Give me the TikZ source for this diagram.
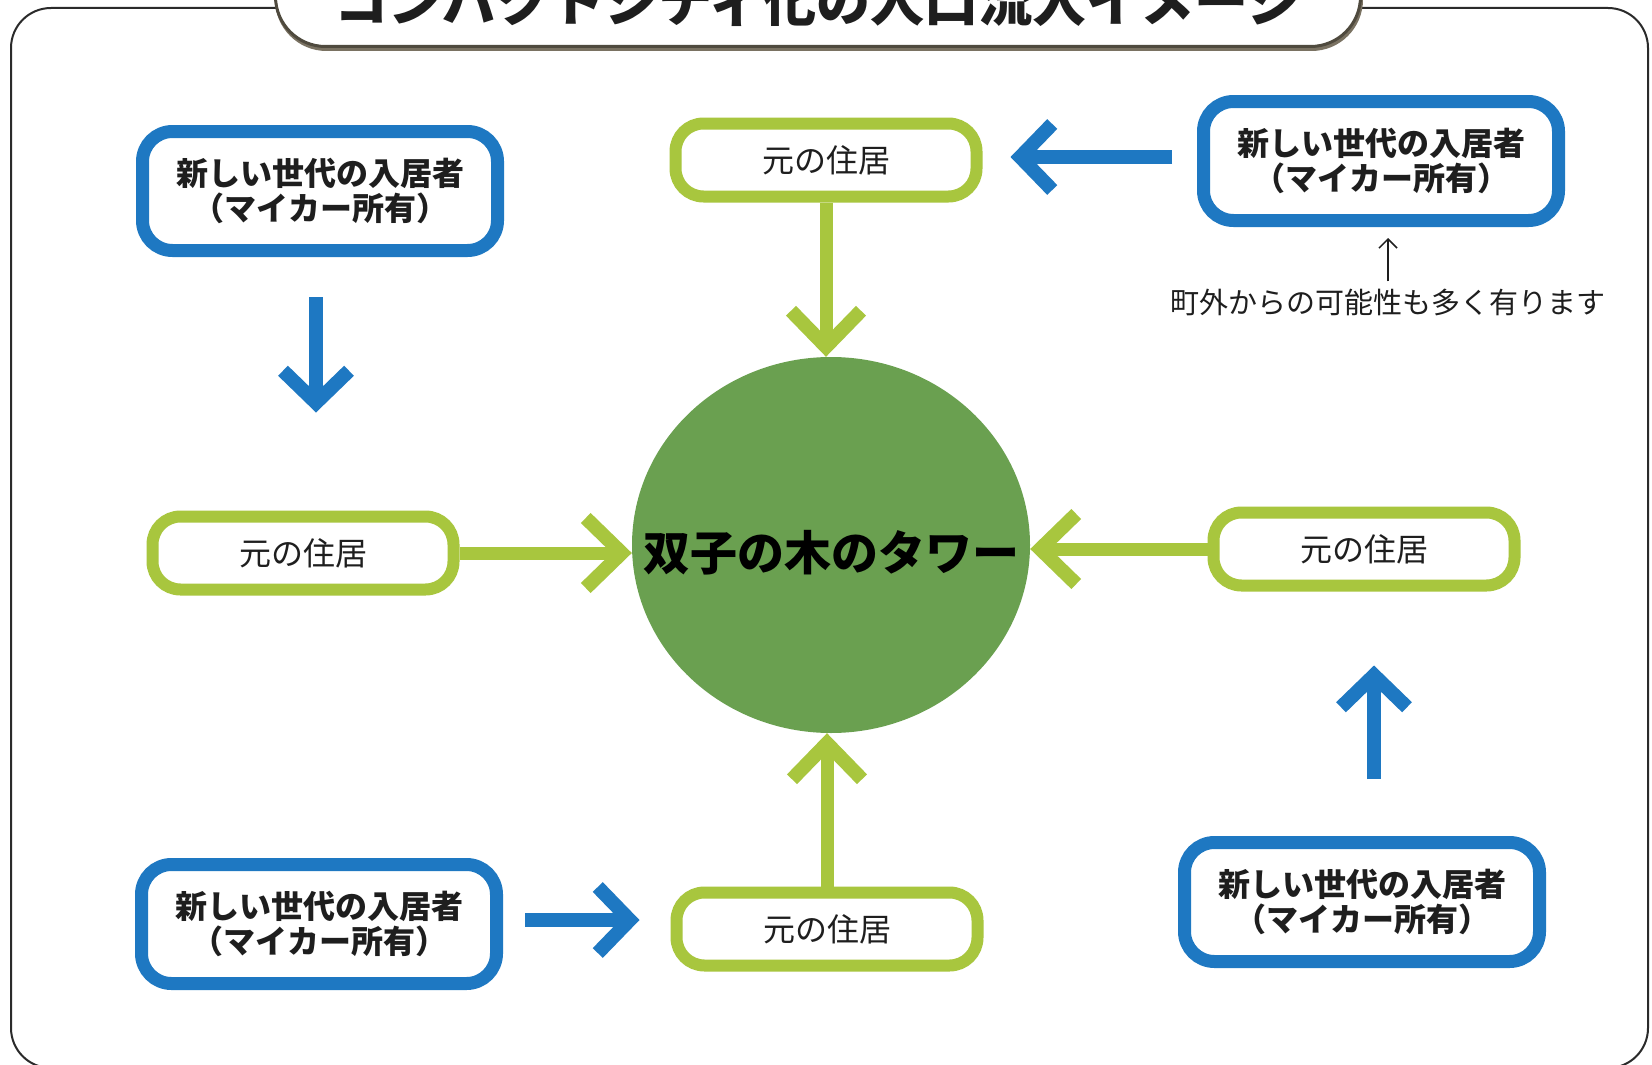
\documentclass[tikz,border=0pt]{standalone}
\usepackage{fontspec}
\newfontfamily\jp{Noto Sans CJK JP}
\usetikzlibrary{arrows.meta,shapes.geometric}
\definecolor{blueC}{HTML}{1E78C2}
\definecolor{greenC}{HTML}{A8C63E}
\definecolor{circC}{HTML}{6AA050}
\definecolor{frameC}{HTML}{2A2A2A}
\definecolor{titleC}{HTML}{4F4A3E}
\definecolor{shadowC}{HTML}{7A7262}
\definecolor{txtC}{HTML}{1E1E1E}
\tikzset{
  newbox/.style={draw=blueC, line width=13pt, rounded corners=30pt, fill=white,
    minimum width=355pt, minimum height=119pt, align=center, inner sep=0pt,
    font=\jp\bfseries\fontsize{32}{35}\selectfont, text=txtC},
  oldbox/.style={draw=greenC, line width=12pt, rounded corners=28pt, fill=white,
    minimum width=301pt, minimum height=73pt, inner sep=0pt,
    font=\jp\fontsize{32}{36}\selectfont, text=txtC},
  bluearrow/.style={draw=blueC, line width=14pt,
    -{Straight Barb[length=32pt,width=66pt,line width=14pt]}},
  greenarrow/.style={draw=greenC, line width=13pt,
    -{Straight Barb[length=36pt,width=70pt,line width=14pt]}},
  titlebox/.style={draw=titleC, line width=3pt, rounded corners=50pt, fill=white,
    minimum width=1085pt, minimum height=113pt},
  titleshadow/.style={draw=shadowC, line width=3pt, rounded corners=50pt, fill=shadowC,
    minimum width=1085pt, minimum height=113pt},
  notearrow/.style={draw=txtC, line width=1.5pt, -{Straight Barb[length=9pt,width=18pt]}}
}
\begin{document}
\begin{tikzpicture}[x=1pt,y=-1pt]
\useasboundingbox (0,0) rectangle (1652,1065);
\clip (0,0) rectangle (1652,1065);
\fill[white] (0,0) rectangle (1652,1065);
% outer frame
\draw[draw=frameC, line width=2pt, rounded corners=40pt] (11,8) rectangle (1648,1068);
% title
\node[titleshadow] (tshadow) at (819,-7) {};
\node[titlebox] (tbox) at (818,-10) {};
\node[font=\jp\bfseries\fontsize{54}{60}\selectfont, anchor=base, text=txtC, inner sep=0pt] (ttl) at (818,22) {コンパクトシティ化の人口流入イメージ};
% centre
\node[ellipse, fill=circC, minimum width=398pt, minimum height=376pt, inner sep=0pt] (circ) at (831,545) {};
\node[font=\jp\bfseries\fontsize{47}{50}\selectfont, text=black, inner sep=0pt] (ctext) at (831,553) {双子の木のタワー};
% old dwellings
\node[oldbox] (gt) at (826,160) {元の住居};
\node[oldbox] (gl) at (303,553) {元の住居};
\node[oldbox] (gr) at (1364,549) {元の住居};
\node[oldbox] (gb) at (827,929) {元の住居};
% new residents
\node[newbox] (ntl) at (320,191) {新しい世代の入居者\\（マイカー所有）};
\node[newbox] (ntr) at (1381,161) {新しい世代の入居者\\（マイカー所有）};
\node[newbox] (nbl) at (319,924) {新しい世代の入居者\\（マイカー所有）};
\node[newbox] (nbr) at (1362,902) {新しい世代の入居者\\（マイカー所有）};
% note
\node[font=\jp\fontsize{29}{32}\selectfont, text=txtC, inner sep=0pt] (note) at (1388,302) {町外からの可能性も多く有ります};
\draw[notearrow, shorten <=7pt, shorten >=11pt] (note.north) -- (note.north |- ntr.south);
% green arrows
\draw[greenarrow] (gt.south) -- (gt.south |- circ.north);
\draw[greenarrow] (gl.east) -- (gl.east -| circ.west);
\draw[greenarrow] (gr.west) -- (gr.west -| circ.east);
\draw[greenarrow] (gb.north) -- (gb.north |- circ.south);
% blue arrows
\draw[bluearrow, shorten <=40pt, shorten >=98pt] ([xshift=-4pt]ntl.south) -- ([xshift=-4pt]ntl.south |- gl.north);
\draw[bluearrow, shorten <=25pt, shorten >=28pt] ([yshift=4pt]ntr.west) -- ([yshift=4pt]ntr.west -| gt.east);
\draw[bluearrow, shorten <=22pt, shorten >=31pt] ([yshift=4pt]nbl.east) -- ([yshift=4pt]nbl.east -| gb.west);
\draw[bluearrow, shorten <=57pt, shorten >=74pt] ([xshift=12pt]nbr.north) -- ([xshift=12pt]nbr.north |- gr.south);
\end{tikzpicture}
\end{document}
